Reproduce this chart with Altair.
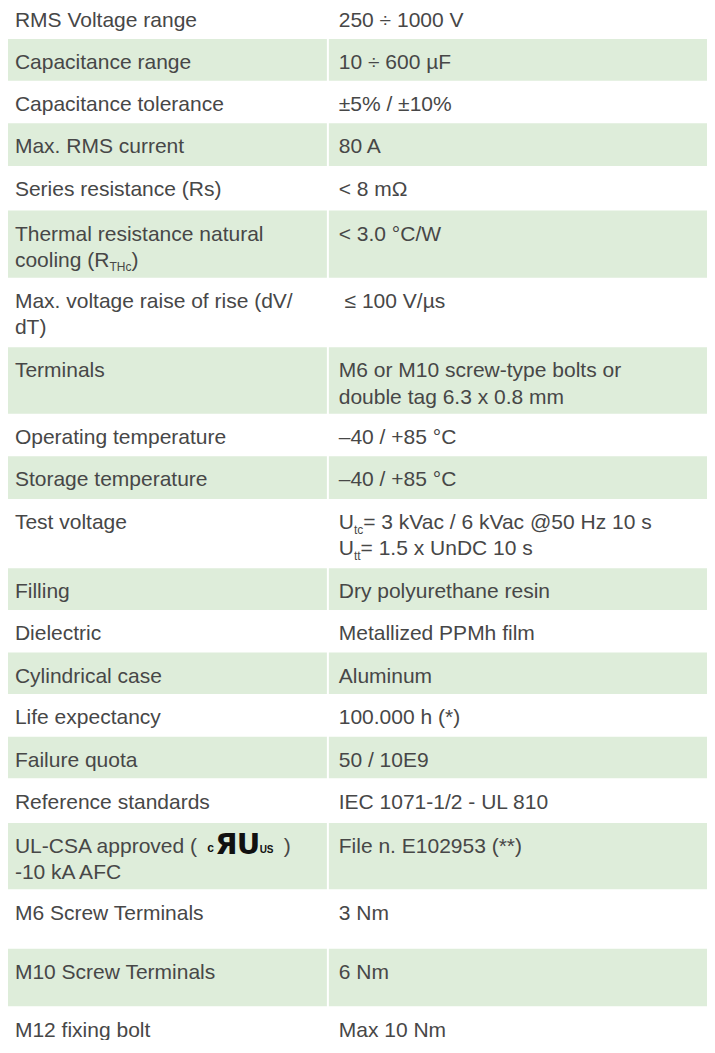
import re
import altair as alt
import pandas as pd

# ------------------------------------------------------------------ data
parameters = [
    "RMS Voltage range",
    "Capacitance range",
    "Capacitance tolerance",
    "Max. RMS current",
    "Series resistance (Rs)",
    "Thermal resistance natural\ncooling (R_{THc})",
    "Max. voltage raise of rise (dV/\ndT)",
    "Terminals",
    "Operating temperature",
    "Storage temperature",
    "Test voltage",
    "Filling",
    "Dielectric",
    "Cylindrical case",
    "Life expectancy",
    "Failure quota",
    "Reference standards",
    "UL-CSA approved ({LOGO})\n-10 kA AFC",
    "M6 Screw Terminals",
    "M10 Screw Terminals",
    "M12 fixing bolt",
]
values = [
    "250 ÷ 1000 V",
    "10 ÷ 600 µF",
    "±5% / ±10%",
    "80 A",
    "< 8 mΩ",
    "< 3.0 °C/W",
    "\u00a0≤ 100 V/µs",
    "M6 or M10 screw-type bolts or\ndouble tag 6.3 x 0.8 mm",
    "–40 / +85 °C",
    "–40 / +85 °C",
    "U_{tc}= 3 kVac / 6 kVac @50 Hz 10 s\nU_{tt}= 1.5 x UnDC 10 s",
    "Dry polyurethane resin",
    "Metallized PPMh film",
    "Aluminum",
    "100.000 h (*)",
    "50 / 10E9",
    "IEC 1071-1/2 - UL 810",
    "File n. E102953 (**)",
    "3 Nm",
    "6 Nm",
    "Max 10 Nm",
]

# ------------------------------------------------------------------ layout
row_heights = [43, 42, 43, 43, 45, 68, 70, 67, 43, 43, 70, 42, 43, 42, 43, 42, 45, 67, 60, 58, 40]
ROW_START = -3
TABLE_LEFT, DIV_L, DIV_R, TABLE_RIGHT = 4, 327, 329, 712
TEXT_X = [11, 339]
FIRST_BASE = 30.5
LINE_GAP = 26.5
FS = 21
SUB_FS = 12
SUB_DY = 4.5
GREEN = "#deedda"
INK = "#474747"
W, H = 699, 1032
Y_DOMAIN = [8.7, 1050]
KX = W / (TABLE_RIGHT - TABLE_LEFT)

ARIAL = {
    " ": 278, "\u00a0": 278, "(": 333, ")": 333, "-": 333, ".": 278, "/": 278,
    "A": 667, "B": 667, "C": 722, "D": 722, "E": 667, "F": 611, "G": 778, "H": 722,
    "I": 278, "L": 556, "M": 833, "N": 722, "O": 778, "P": 667, "R": 722, "S": 667,
    "T": 611, "U": 722, "V": 667, "W": 944,
    "a": 556, "b": 556, "c": 500, "d": 556, "e": 556, "f": 278, "g": 556, "h": 556,
    "i": 222, "k": 500, "l": 222, "m": 833, "n": 556, "o": 556, "p": 556, "r": 333,
    "s": 500, "t": 278, "u": 556, "v": 500, "w": 722, "x": 500, "y": 500,
}


def width(s, size):
    return sum(ARIAL.get(ch, 556) for ch in s) / 1000 * size / KX


tops = []
acc = ROW_START
for h in row_heights:
    tops.append(acc)
    acc += h

rects = []
for i, (top, h) in enumerate(zip(tops, row_heights)):
    if i % 2 == 1:
        rects.append({"x": TABLE_LEFT, "x2": DIV_L, "y": top, "y2": top + h})
        rects.append({"x": DIV_R, "x2": TABLE_RIGHT, "y": top, "y2": top + h})
rect_df = pd.DataFrame(rects)

reg, big, small = [], [], []
for i, top in enumerate(tops):
    for col, cell in enumerate([parameters[i], values[i]]):
        for li, line in enumerate(cell.split("\n")):
            base = top + FIRST_BASE + li * LINE_GAP
            x = TEXT_X[col]
            for part in re.split(r"(_\{[^}]*\}|\{LOGO\})", line):
                if not part:
                    continue
                if part.startswith("_{"):
                    t = part[2:-1]
                    reg.append({"x": x, "y": base + SUB_DY, "text": t, "size": SUB_FS})
                    x += width(t, SUB_FS)
                elif part == "{LOGO}":
                    x += 9 / KX
                    small.append({"x": x, "y": base - 1, "text": "c", "size": 12})
                    x += 8 / KX
                    big.append({"x": x, "y": base + 1, "text": "Я"})
                    x += 21.5 / KX
                    big.append({"x": x, "y": base + 1, "text": "U"})
                    x += 23 / KX
                    small.append({"x": x, "y": base, "text": "US", "size": 10})
                    x += 24 / KX
                else:
                    stripped = part.lstrip("\u00a0")
                    x += width(part[: len(part) - len(stripped)], FS)
                    reg.append({"x": x, "y": base, "text": stripped, "size": FS})
                    x += width(stripped, FS)

reg_df = pd.DataFrame(reg)
big_df = pd.DataFrame(big)
small_df = pd.DataFrame(small)

xs = alt.Scale(domain=[TABLE_LEFT, TABLE_RIGHT], nice=False, zero=False)
ys = alt.Scale(domain=Y_DOMAIN, reverse=True, nice=False, zero=False)

rect_layer = alt.Chart(rect_df).mark_rect(color=GREEN).encode(
    x=alt.X("x:Q", scale=xs, axis=None),
    x2="x2:Q",
    y=alt.Y("y:Q", scale=ys, axis=None),
    y2="y2:Q",
)

text_layer = alt.Chart(reg_df).mark_text(
    align="left", baseline="alphabetic", font="Liberation Sans", color=INK
).encode(
    x=alt.X("x:Q", scale=xs, axis=None),
    y=alt.Y("y:Q", scale=ys, axis=None),
    text="text:N",
    size=alt.Size("size:Q", scale=None),
)

logo_big = alt.Chart(big_df).mark_text(
    align="left", baseline="alphabetic", font="DejaVu Sans", fontWeight="bold",
    fontSize=29, color="#111111"
).encode(
    x=alt.X("x:Q", scale=xs, axis=None),
    y=alt.Y("y:Q", scale=ys, axis=None),
    text="text:N",
)

logo_small = alt.Chart(small_df).mark_text(
    align="left", baseline="alphabetic", font="Liberation Sans", fontWeight="bold",
    color="#111111"
).encode(
    x=alt.X("x:Q", scale=xs, axis=None),
    y=alt.Y("y:Q", scale=ys, axis=None),
    text="text:N",
    size=alt.Size("size:Q", scale=None),
)

chart = alt.layer(rect_layer, text_layer, logo_big, logo_small).properties(
    width=W, height=H, padding=0, autosize=alt.AutoSizeParams(type="none")
).configure_view(stroke=None)

chart.save("out.html", embed_options={"renderer": "svg", "actions": False})
